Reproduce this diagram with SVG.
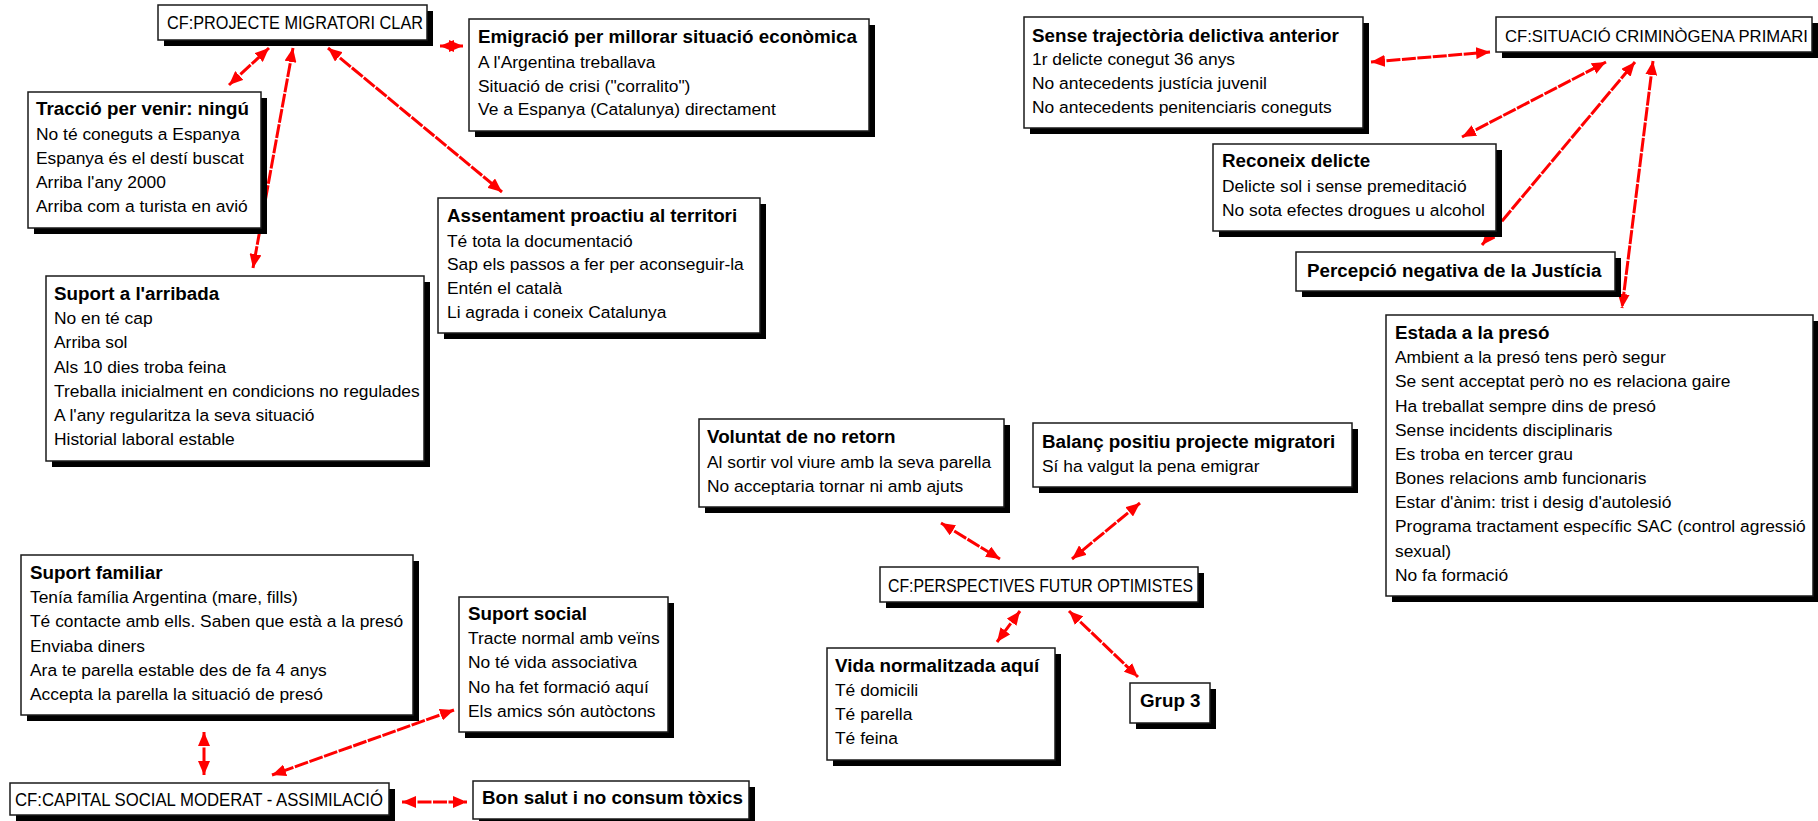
<svg xmlns="http://www.w3.org/2000/svg" width="1818" height="821" viewBox="0 0 1818 821">
  <defs>
    <marker id="arrow" viewBox="0 0 14 12" refX="14" refY="6" markerWidth="14" markerHeight="12" markerUnits="userSpaceOnUse" orient="auto-start-reverse">
      <path d="M0,0 L14,6 L0,12 z" fill="#ff0000"/>
    </marker>
    <style>
      .shadow { fill: #000; }
      .box { fill: #fff; stroke: #1a1a1a; stroke-width: 1.5; }
      text { font-family: "Liberation Sans", Arial, sans-serif; fill: #000; }
      .t { font-size: 18.8px; font-weight: bold; }
      .l { font-size: 17.4px; }
      .cf { font-size: 18px; }
      .link { fill: none; stroke: #ff0000; stroke-width: 3; stroke-dasharray: 14 1.5; marker-start: url(#arrow); marker-end: url(#arrow); }
    </style>
  </defs>
  <rect width="1818" height="821" fill="#fff"/>

  <!-- connectors -->
  <g id="connectors">
    <path class="link" d="M229,85 L269,48"/>
    <path class="link" d="M293,48 L253,268"/>
    <path class="link" d="M328,48 L502,192"/>
    <path class="link" d="M440,46 L463,46"/>
    <path class="link" d="M1371,62 L1490,52"/>
    <path class="link" d="M1462,137 L1606,62"/>
    <path class="link" d="M1482,245 L1635,62"/>
    <path class="link" d="M1653,61 L1622,308"/>
    <path class="link" d="M941,523 L1000,559"/>
    <path class="link" d="M1140,503 L1072,559"/>
    <path class="link" d="M1020,611 L997,642"/>
    <path class="link" d="M1069,611 L1138,677"/>
    <path class="link" d="M204,732 L204,775"/>
    <path class="link" d="M454,710 L272,775"/>
    <path class="link" d="M402,802 L467,802"/>
  </g>

  <!-- central factor: migration project -->
  <g id="cf-projecte">
    <rect class="shadow" x="164" y="11" width="269" height="35"/>
    <rect class="box" x="158" y="5" width="269" height="35"/>
    <text class="cf" x="167" y="29" textLength="256" lengthAdjust="spacingAndGlyphs">CF:PROJECTE MIGRATORI CLAR</text>
  </g>

  <g id="traccio">
    <rect class="shadow" x="34" y="98" width="233" height="136"/>
    <rect class="box" x="28" y="92" width="233" height="136"/>
    <text class="t" x="36" y="115">Tracció per venir: ningú</text>
    <text class="l" x="36" y="140">No té coneguts a Espanya</text>
    <text class="l" x="36" y="164">Espanya és el destí buscat</text>
    <text class="l" x="36" y="188">Arriba l'any 2000</text>
    <text class="l" x="36" y="212">Arriba com a turista en avió</text>
  </g>

  <g id="emigracio">
    <rect class="shadow" x="475" y="25" width="400" height="112"/>
    <rect class="box" x="469" y="19" width="400" height="112"/>
    <text class="t" x="478" y="43">Emigració per millorar situació econòmica</text>
    <text class="l" x="478" y="68">A l'Argentina treballava</text>
    <text class="l" x="478" y="92">Situació de crisi ("corralito")</text>
    <text class="l" x="478" y="115">Ve a Espanya (Catalunya) directament</text>
  </g>

  <g id="assentament">
    <rect class="shadow" x="444" y="204" width="322" height="135"/>
    <rect class="box" x="438" y="198" width="322" height="135"/>
    <text class="t" x="447" y="222">Assentament proactiu al territori</text>
    <text class="l" x="447" y="247">Té tota la documentació</text>
    <text class="l" x="447" y="270">Sap els passos a fer per aconseguir-la</text>
    <text class="l" x="447" y="294">Entén el català</text>
    <text class="l" x="447" y="318">Li agrada i coneix Catalunya</text>
  </g>

  <g id="suport-arribada">
    <rect class="shadow" x="52" y="282" width="378" height="185"/>
    <rect class="box" x="46" y="276" width="378" height="185"/>
    <text class="t" x="54" y="300">Suport a l'arribada</text>
    <text class="l" x="54" y="324">No en té cap</text>
    <text class="l" x="54" y="348">Arriba sol</text>
    <text class="l" x="54" y="373">Als 10 dies troba feina</text>
    <text class="l" x="54" y="397">Treballa inicialment en condicions no regulades</text>
    <text class="l" x="54" y="421">A l'any regularitza la seva situació</text>
    <text class="l" x="54" y="445">Historial laboral estable</text>
  </g>

  <!-- central factor: criminogenic situation -->
  <g id="cf-situacio">
    <rect class="shadow" x="1502" y="23" width="316" height="35"/>
    <rect class="box" x="1496" y="17" width="316" height="35"/>
    <text class="cf" x="1505" y="42" style="font-size:17px" textLength="303" lengthAdjust="spacingAndGlyphs">CF:SITUACIÓ CRIMINÒGENA PRIMARI</text>
  </g>

  <g id="sense-trajectoria">
    <rect class="shadow" x="1030" y="23" width="339" height="111"/>
    <rect class="box" x="1024" y="17" width="339" height="111"/>
    <text class="t" x="1032" y="42">Sense trajectòria delictiva anterior</text>
    <text class="l" x="1032" y="65">1r delicte conegut 36 anys</text>
    <text class="l" x="1032" y="89">No antecedents justícia juvenil</text>
    <text class="l" x="1032" y="113">No antecedents penitenciaris coneguts</text>
  </g>

  <g id="reconeix">
    <rect class="shadow" x="1219" y="150" width="283" height="87"/>
    <rect class="box" x="1213" y="144" width="283" height="87"/>
    <text class="t" x="1222" y="167">Reconeix delicte</text>
    <text class="l" x="1222" y="192">Delicte sol i sense premeditació</text>
    <text class="l" x="1222" y="216">No sota efectes drogues u alcohol</text>
  </g>

  <g id="percepcio">
    <rect class="shadow" x="1302" y="258" width="319" height="39"/>
    <rect class="box" x="1296" y="252" width="319" height="39"/>
    <text class="t" x="1307" y="277">Percepció negativa de la Justícia</text>
  </g>

  <g id="estada">
    <rect class="shadow" x="1392" y="321" width="426" height="281"/>
    <rect class="box" x="1386" y="315" width="427" height="281"/>
    <text class="t" x="1395" y="339">Estada a la presó</text>
    <text class="l" x="1395" y="363">Ambient a la presó tens però segur</text>
    <text class="l" x="1395" y="387">Se sent acceptat però no es relaciona gaire</text>
    <text class="l" x="1395" y="412">Ha treballat sempre dins de presó</text>
    <text class="l" x="1395" y="436">Sense incidents disciplinaris</text>
    <text class="l" x="1395" y="460">Es troba en tercer grau</text>
    <text class="l" x="1395" y="484">Bones relacions amb funcionaris</text>
    <text class="l" x="1395" y="508">Estar d'ànim: trist i desig d'autolesió</text>
    <text class="l" x="1395" y="532">Programa tractament específic SAC (control agressió</text>
    <text class="l" x="1395" y="557">sexual)</text>
    <text class="l" x="1395" y="581">No fa formació</text>
  </g>

  <!-- central factor: future outlook -->
  <g id="cf-perspectives">
    <rect class="shadow" x="886" y="573" width="318" height="35"/>
    <rect class="box" x="880" y="567" width="318" height="35"/>
    <text class="cf" x="888" y="592" textLength="305" lengthAdjust="spacingAndGlyphs">CF:PERSPECTIVES FUTUR OPTIMISTES</text>
  </g>

  <g id="voluntat">
    <rect class="shadow" x="705" y="425" width="305" height="88"/>
    <rect class="box" x="699" y="419" width="305" height="88"/>
    <text class="t" x="707" y="443">Voluntat de no retorn</text>
    <text class="l" x="707" y="468">Al sortir vol viure amb la seva parella</text>
    <text class="l" x="707" y="492">No acceptaria tornar ni amb ajuts</text>
  </g>

  <g id="balanc">
    <rect class="shadow" x="1039" y="429" width="319" height="64"/>
    <rect class="box" x="1033" y="423" width="319" height="64"/>
    <text class="t" x="1042" y="448">Balanç positiu projecte migratori</text>
    <text class="l" x="1042" y="472">Sí ha valgut la pena emigrar</text>
  </g>

  <g id="vida">
    <rect class="shadow" x="833" y="654" width="228" height="112"/>
    <rect class="box" x="827" y="648" width="228" height="112"/>
    <text class="t" x="835" y="672">Vida normalitzada aquí</text>
    <text class="l" x="835" y="696">Té domicili</text>
    <text class="l" x="835" y="720">Té parella</text>
    <text class="l" x="835" y="744">Té feina</text>
  </g>

  <g id="grup3">
    <rect class="shadow" x="1136" y="689" width="80" height="40"/>
    <rect class="box" x="1130" y="683" width="80" height="40"/>
    <text class="t" x="1140" y="707">Grup 3</text>
  </g>

  <!-- central factor: social capital -->
  <g id="cf-capital">
    <rect class="shadow" x="16" y="789" width="379" height="32"/>
    <rect class="box" x="10" y="783" width="379" height="32"/>
    <text class="cf" x="15" y="806" textLength="368" lengthAdjust="spacingAndGlyphs">CF:CAPITAL SOCIAL MODERAT - ASSIMILACIÓ</text>
  </g>

  <g id="suport-familiar">
    <rect class="shadow" x="27" y="561" width="392" height="160"/>
    <rect class="box" x="21" y="555" width="392" height="160"/>
    <text class="t" x="30" y="579">Suport familiar</text>
    <text class="l" x="30" y="603">Tenía família Argentina (mare, fills)</text>
    <text class="l" x="30" y="627">Té contacte amb ells. Saben que està a la presó</text>
    <text class="l" x="30" y="652">Enviaba diners</text>
    <text class="l" x="30" y="676">Ara te parella estable des de fa 4 anys</text>
    <text class="l" x="30" y="700">Accepta la parella la situació de presó</text>
  </g>

  <g id="suport-social">
    <rect class="shadow" x="465" y="603" width="209" height="135"/>
    <rect class="box" x="459" y="597" width="209" height="135"/>
    <text class="t" x="468" y="620">Suport social</text>
    <text class="l" x="468" y="644">Tracte normal amb veïns</text>
    <text class="l" x="468" y="668">No té vida associativa</text>
    <text class="l" x="468" y="693">No ha fet formació aquí</text>
    <text class="l" x="468" y="717">Els amics són autòctons</text>
  </g>

  <g id="bon-salut">
    <rect class="shadow" x="479" y="787" width="276" height="38"/>
    <rect class="box" x="473" y="781" width="276" height="38"/>
    <text class="t" x="482" y="804">Bon salut i no consum tòxics</text>
  </g>
</svg>
